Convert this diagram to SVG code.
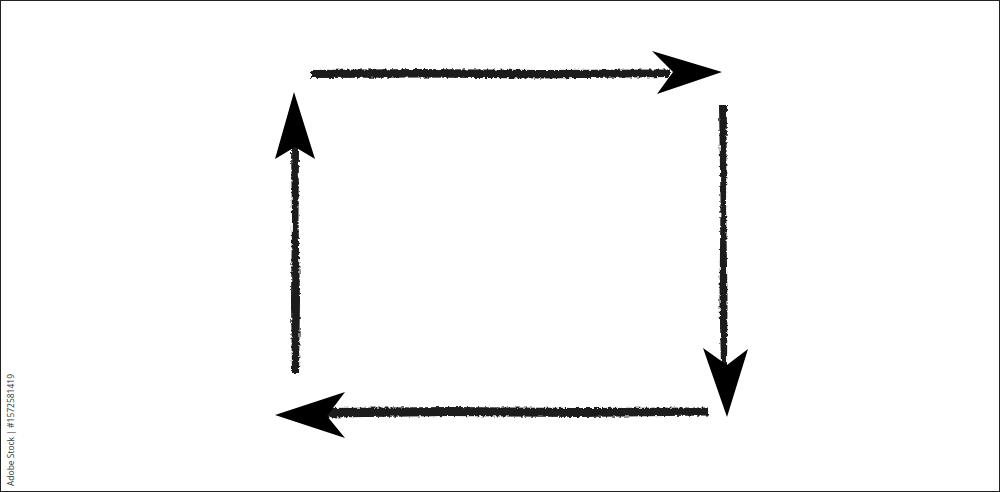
<svg xmlns="http://www.w3.org/2000/svg" width="1000" height="492" viewBox="0 0 1000 492">
<defs>
<style>
.stroke{fill:#1a1a1a;filter:url(#rough)}
.head{fill:#000}
.credit{font-family:"Open Sans","Liberation Sans",sans-serif;font-size:9.5px;fill:#333}
</style>
<filter id="rough" x="-5%" y="-50%" width="110%" height="200%">
<feTurbulence type="fractalNoise" baseFrequency="0.35" numOctaves="2" seed="3" result="n"/>
<feDisplacementMap in="SourceGraphic" in2="n" scale="4" xChannelSelector="R" yChannelSelector="G"/>
</filter>
</defs>
<rect x="0.5" y="0.5" width="999" height="491" fill="#fff" stroke="#222" stroke-width="1"/>
<g id="arrow-top">
<path class="stroke" d="M311,70 L420,69 L540,70 L670,69.5 L670,77 L540,78.5 L420,77.5 L311,78 Z"/>
<polygon class="head" points="652,51 722,72 657,94 673,72"/>
</g>
<g id="arrow-right">
<path class="stroke" d="M719,105 L727,105 L726,200 L727.5,300 L727,366 L721,366 L719.5,300 L720.5,200 Z"/>
<polygon class="head" points="703,348 727,365 748,349 727,417"/>
</g>
<g id="arrow-bottom">
<path class="stroke" d="M325,408 L450,407 L580,408 L708,407.5 L708,415.5 L580,417 L450,416 L325,417.5 Z"/>
<polygon class="head" points="275,415 345,392 327,416 345,438"/>
</g>
<g id="arrow-left">
<path class="stroke" d="M291,145 L299,145 L298.5,220 L300,300 L299,373 L292,373 L291,300 L292,220 Z"/>
<polygon class="head" points="294,92 315,159 295,147 275,159"/>
</g>
<text class="credit" transform="translate(14,486) rotate(-90)" textLength="112" lengthAdjust="spacingAndGlyphs">Adobe Stock | #1572581419</text>
</svg>
